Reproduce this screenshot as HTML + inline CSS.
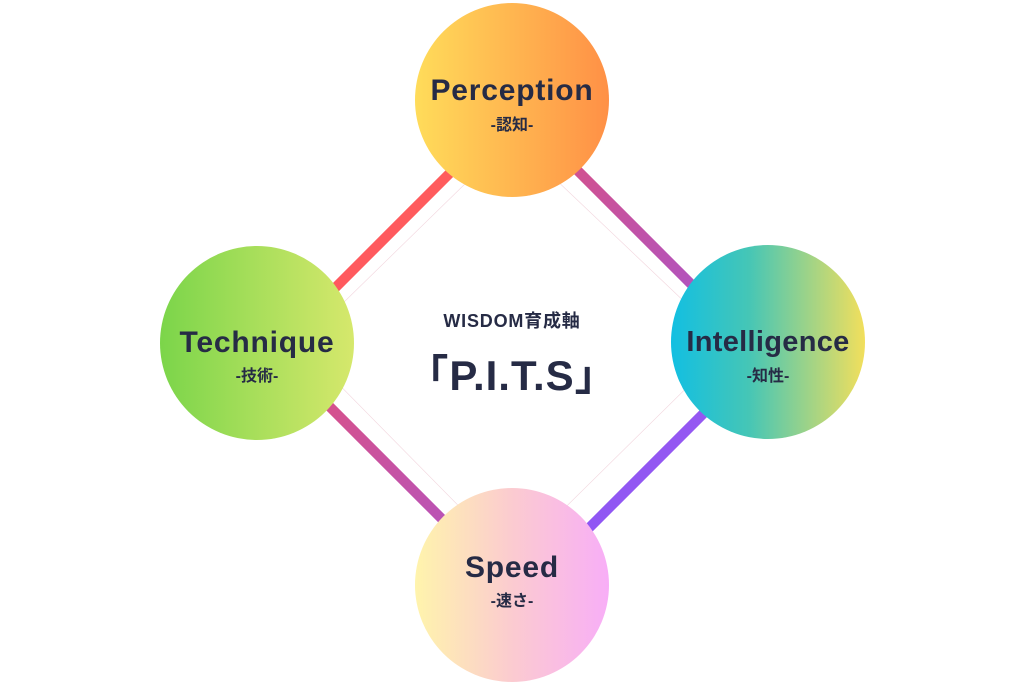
<!DOCTYPE html>
<html><head><meta charset="utf-8"><style>
html,body{margin:0;padding:0;background:#fff;}
body{width:1024px;height:683px;position:relative;overflow:hidden;font-family:"Liberation Sans","Noto Sans CJK JP",sans-serif;color:#262b45;}
.c{position:absolute;width:194px;height:194px;border-radius:50%;text-align:center;}
.t{position:absolute;left:0;right:0;font-weight:bold;font-size:30px;letter-spacing:0.8px;}
.s{position:absolute;left:0;right:0;font-weight:bold;font-size:16px;}
</style></head><body>
<svg width="1024" height="683" style="position:absolute;left:0;top:0">
<defs>
<linearGradient id="g1" x1="0" y1="0" x2="1" y2="0"><stop offset="0" stop-color="#ff585f"/><stop offset="1" stop-color="#ff5d5c"/></linearGradient>
<linearGradient id="g2" x1="0" y1="0" x2="1" y2="1"><stop offset="0" stop-color="#e0507a"/><stop offset="1" stop-color="#a155d6"/></linearGradient>
<linearGradient id="g3" x1="0" y1="0" x2="1" y2="1"><stop offset="0" stop-color="#e2507a"/><stop offset="1" stop-color="#a855d0"/></linearGradient>
<linearGradient id="g4" x1="0" y1="0" x2="1" y2="0"><stop offset="0" stop-color="#8c56f5"/><stop offset="1" stop-color="#9858f0"/></linearGradient>
</defs>
<line x1="273" y1="350" x2="515" y2="108" stroke="url(#g1)" stroke-width="10"/>
<line x1="515" y1="108" x2="762" y2="355" stroke="url(#g2)" stroke-width="10"/>
<line x1="273" y1="350" x2="520" y2="597" stroke="url(#g3)" stroke-width="10"/>
<line x1="520" y1="597" x2="762" y2="355" stroke="url(#g4)" stroke-width="10"/>
<polygon points="512,138 730,345 512,560 300,345" fill="none" stroke="#f2d6de" stroke-width="0.6"/>
</svg>
<div class="c" style="left:415px;top:3px;background:linear-gradient(90deg,#ffdc5a,#ff9046)">
<div class="t" style="top:71px">Perception</div><div class="s" style="top:108px">-認知-</div></div>
<div class="c" style="left:160px;top:246px;background:linear-gradient(90deg,#7bd54a,#d6e86c)">
<div class="t" style="top:80px">Technique</div><div class="s" style="top:116px">-技術-</div></div>
<div class="c" style="left:671px;top:245px;background:linear-gradient(90deg,#12bfe2,#45c6b6 40%,#f2df5c)">
<div class="t" style="top:81px;font-size:29px;letter-spacing:0.3px">Intelligence</div><div class="s" style="top:117px">-知性-</div></div>
<div class="c" style="left:415px;top:488px;background:linear-gradient(90deg,#fff4ac,#fbcbd0 50%,#f8aef7)">
<div class="t" style="top:63px">Speed</div><div class="s" style="top:99px">-速さ-</div></div>
<div style="position:absolute;left:380px;width:264px;top:307px;text-align:center;font-weight:bold;font-size:18px;letter-spacing:0.8px">WISDOM育成軸</div>
<div style="position:absolute;left:380px;width:264px;top:342px;text-align:center;font-weight:bold;font-size:42px;letter-spacing:1px">「P.I.T.S」</div>
</body></html>
